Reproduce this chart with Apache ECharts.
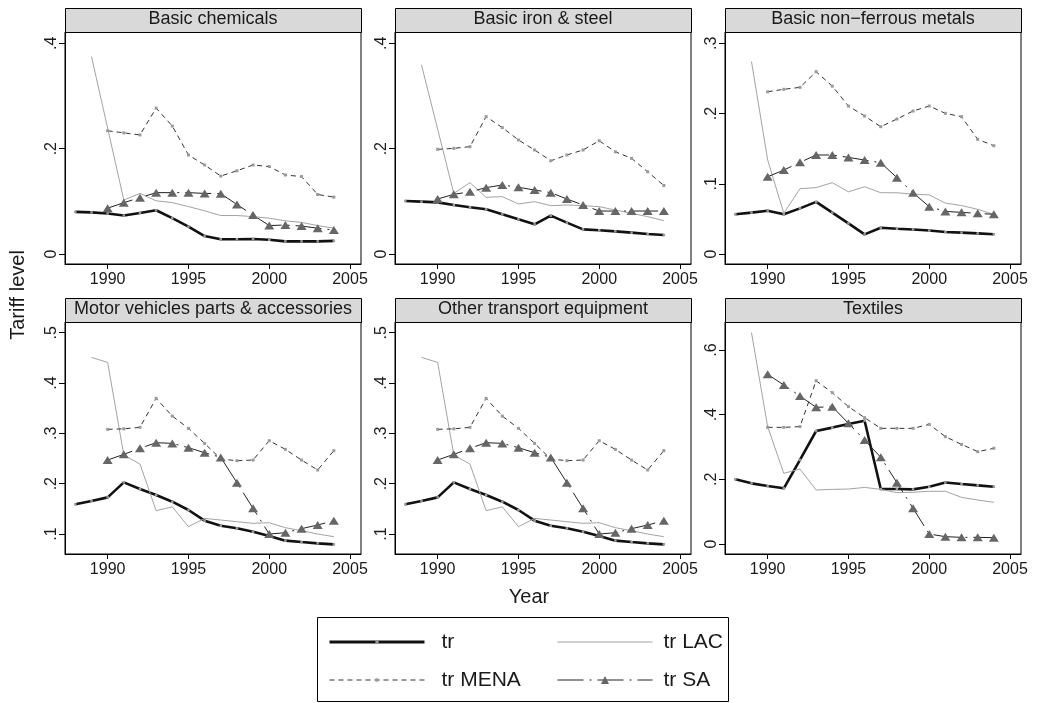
<!DOCTYPE html>
<html>
<head>
<meta charset="utf-8">
<script src="https://cdn.jsdelivr.net/npm/echarts@6/dist/echarts.min.js"></script>
<style>html,body{margin:0;padding:0;background:#fff}#chart{width:1039px;height:703px}</style>
</head>
<body>
<div id="chart"></div>
<script>
// ---------- data ----------
const years = [1988,1989,1990,1991,1992,1993,1994,1995,1996,1997,1998,1999,2000,2001,2002,2003,2004];
const panelTitles = ['Basic chemicals','Basic iron & steel','Basic non\u2212ferrous metals',
  'Motor vehicles parts & accessories','Other transport equipment','Textiles'];
const seriesNames = ['tr','tr LAC','tr MENA','tr SA'];
const xTicks = [1990,1995,2000,2005];

const chemTr   = [0.080,0.079,0.077,0.073,0.078,0.083,0.068,0.052,0.034,0.028,0.028,0.0285,0.027,0.024,0.024,0.024,0.025];
const chemLAC  = [null,0.375,null,0.1025,0.115,0.101,0.0975,0.090,0.082,0.073,0.073,0.071,0.068,0.063,0.060,0.054,0.049];
const chemMENA = [null,null,0.234,0.230,0.226,0.277,0.243,0.188,0.169,0.148,0.158,0.169,0.166,0.150,0.147,0.113,0.108];
const chemSA   = [null,null,0.087,0.0975,0.107,0.1165,0.1165,0.1165,0.115,0.1146,0.094,0.074,0.054,0.055,0.053,0.049,0.0456];
const chemTicks = [0,0.2,0.4];

const steelTr   = [0.1006,0.0994,0.098,0.093,0.0886,0.0848,0.0753,0.0658,0.0563,0.0728,0.0595,0.0468,0.045,0.043,0.0405,0.038,0.036];
const steelLAC  = [null,0.359,null,0.115,0.1354,0.1076,0.1089,0.095,0.0994,0.0918,0.093,0.0918,0.0899,0.0835,0.0772,0.0709,0.0633];
const steelMENA = [null,null,0.1987,0.2006,0.2038,0.2608,0.240,0.2165,0.1975,0.177,0.188,0.1975,0.215,0.194,0.1816,0.156,0.130];
const steelSA   = [null,null,0.1044,0.1133,0.118,0.126,0.131,0.1266,0.1215,0.1165,0.1044,0.093,0.0816,0.0816,0.0816,0.0816,0.0816];
const steelTicks = [0,0.2,0.4];

const nonfTr   = [0.0567,0.0589,0.0617,0.0567,0.065,0.0742,0.0589,0.0437,0.028,0.0375,0.036,0.035,0.0334,0.0313,0.0304,0.0294,0.0282];
const nonfLAC  = [null,0.274,0.134,0.058,0.093,0.0946,0.1016,0.0886,0.0958,0.0873,0.0872,0.0852,0.0842,0.0725,0.069,0.0636,0.0565];
const nonfMENA = [null,null,0.231,0.2345,0.2373,0.2596,0.239,0.2107,0.1965,0.1813,0.1922,0.2036,0.2107,0.2003,0.1955,0.1633,0.1542];
const nonfSA   = [null,null,0.110,0.1196,0.1305,0.141,0.141,0.1376,0.1338,0.130,0.1087,0.0873,0.0674,0.0607,0.0593,0.0579,0.0565];
const nonfTicks = [0,0.1,0.2,0.3];

const motorTr   = [0.159,0.1656,0.1728,0.2026,0.1894,0.1775,0.1642,0.1477,0.1265,0.1166,0.1113,0.1046,0.096,0.0868,0.084,0.0815,0.0795];
const motorLAC  = [null,0.451,0.441,0.257,0.239,0.1464,0.154,0.1146,0.131,0.1278,0.1245,0.1212,0.1225,0.1126,0.1066,0.100,0.0947];
const motorMENA = [null,null,0.308,0.309,0.312,0.3695,0.3344,0.310,0.2801,0.249,0.2457,0.247,0.2854,0.2682,0.247,0.2272,0.2656];
const motorSA   = [null,null,0.247,0.2583,0.2702,0.2815,0.2801,0.2715,0.2616,0.2523,0.202,0.151,0.100,0.1026,0.1106,0.1179,0.1265];
const motorTicks = [0.1,0.2,0.3,0.4,0.5];

const transTr   = [0.159,0.1656,0.1728,0.2026,0.1894,0.1775,0.1642,0.1477,0.1265,0.1166,0.1113,0.1046,0.096,0.0868,0.084,0.0815,0.0795];
const transLAC  = [null,0.451,0.441,0.257,0.239,0.1464,0.154,0.1146,0.131,0.1278,0.1245,0.1212,0.1225,0.1126,0.1066,0.100,0.0947];
const transMENA = [null,null,0.308,0.309,0.312,0.3695,0.3344,0.310,0.2801,0.249,0.2457,0.247,0.2854,0.2682,0.247,0.2272,0.2656];
const transSA   = [null,null,0.247,0.2583,0.2702,0.2815,0.2801,0.2715,0.2616,0.2523,0.202,0.151,0.100,0.1026,0.1106,0.1179,0.1265];
const transTicks = [0.1,0.2,0.3,0.4,0.5];

const textTr   = [0.200,0.1876,0.1794,0.1722,0.260,0.3495,0.360,0.371,0.3814,0.170,0.170,0.169,0.177,0.190,0.1856,0.1814,0.177];
const textLAC  = [null,0.6536,0.3629,0.2186,0.232,0.167,0.169,0.170,0.175,0.169,0.1588,0.160,0.163,0.163,0.1443,0.136,0.129];
const textMENA = [null,null,0.3608,0.3608,0.363,0.505,0.468,0.425,0.3907,0.3577,0.3577,0.3577,0.370,0.332,0.308,0.2856,0.296];
const textSA   = [null,null,0.5247,0.4918,0.4577,0.4227,0.4247,0.3732,0.3216,0.268,0.1897,0.1103,0.0309,0.0227,0.0206,0.0206,0.0196];
const textTicks = [0,0.2,0.4,0.6];

// axis ranges (scale extents of each panel)
const xRange = [1987.36, 2005.68];
const yRanges = [[-0.019,0.4215],[-0.019,0.4215],[-0.0142,0.3161],[0.0603,0.5213],[0.0603,0.5213],[-0.0309,0.6866]];

const panelData = [
  [chemTr,chemLAC,chemMENA,chemSA,chemTicks],
  [steelTr,steelLAC,steelMENA,steelSA,steelTicks],
  [nonfTr,nonfLAC,nonfMENA,nonfSA,nonfTicks],
  [motorTr,motorLAC,motorMENA,motorSA,motorTicks],
  [transTr,transLAC,transMENA,transSA,transTicks],
  [textTr,textLAC,textMENA,textSA,textTicks]
];

// ---------- layout & style ----------
const FONT = 'Liberation Sans, Arial, Helvetica, sans-serif';
const colLeft = [65, 395, 725];
const rowTop = [32, 322];
const plotW = 296, plotH = 232, stripH = 24;

function pairs(vals){
  const out = [];
  vals.forEach((v,k)=>{ if (v !== null) out.push([years[k], v]); });
  return out;
}
function yFmt(v){
  const r = Math.round(v*10)/10;
  if (r === 0) return '0';
  return String(r).replace(/^0\./,'.');
}
function xFmt(v){ return String(Math.round(v)); }

const grids=[], xAxes=[], yAxes=[], series=[], graphics=[];
panelData.forEach((p,i)=>{
  const r = Math.floor(i/3), c = i%3;
  const left = colLeft[c], top = rowTop[r];
  grids.push({left:left, top:top, width:plotW, height:plotH, show:true,
    borderColor:'#000', borderWidth:1, backgroundColor:'#fff', containLabel:false});
  xAxes.push({type:'value', gridIndex:i, min:xRange[0], max:xRange[1],
    axisLine:{show:true, onZero:false, lineStyle:{color:'#000', width:1}},
    axisTick:{show:true, length:5, customValues:xTicks, lineStyle:{color:'#000', width:1}},
    axisLabel:{show:true, customValues:xTicks, fontSize:16, color:'#1a1a1a', margin:8, fontFamily:FONT, formatter:xFmt},
    splitLine:{show:false}});
  yAxes.push({type:'value', gridIndex:i, min:yRanges[i][0], max:yRanges[i][1],
    axisLine:{show:true, onZero:false, lineStyle:{color:'#000', width:1}},
    axisTick:{show:true, length:6, customValues:p[4], lineStyle:{color:'#000', width:1}},
    axisLabel:{show:true, customValues:p[4], rotate:90, fontSize:16, color:'#1a1a1a', margin:5,
      fontFamily:FONT, formatter:yFmt},
    splitLine:{show:false}});
  const common = {type:'line', xAxisIndex:i, yAxisIndex:i, silent:true, animation:false,
    showAllSymbol:true, emphasis:{disabled:true}, connectNulls:true};
  series.push(Object.assign({}, common, {name:seriesNames[0], data:pairs(p[0]), z:3,
    symbol:'rect', symbolSize:2.5, itemStyle:{color:'#9a9a9a'}, lineStyle:{color:'#111', width:2.6}}));
  series.push(Object.assign({}, common, {name:seriesNames[1], data:pairs(p[1]), z:4,
    symbol:'none', itemStyle:{color:'#a3a3a3'}, lineStyle:{color:'#a3a3a3', width:1}}));
  series.push(Object.assign({}, common, {name:seriesNames[2], data:pairs(p[2]), z:5,
    symbol:'rect', symbolSize:3, itemStyle:{color:'#9a9a9a'}, lineStyle:{color:'#333', width:1, type:[5,4]}}));
  series.push(Object.assign({}, common, {name:seriesNames[3], data:pairs(p[3]), z:6,
    symbol:'triangle', symbolSize:[10,8], itemStyle:{color:'#666'}, lineStyle:{color:'#222', width:1, type:[26,6,2,6]}}));
  // strip header
  graphics.push({type:'rect', silent:true, z:10,
    shape:{x:left+0.5, y:top-stripH+0.5, width:plotW, height:stripH},
    style:{fill:'#d9d9d9', stroke:'#000', lineWidth:1}});
  graphics.push({type:'text', silent:true, z:11, x:left+plotW/2, y:top-stripH/2-1,
    style:{text:panelTitles[i], fontSize:18, fontFamily:FONT, fill:'#1a1a1a', textAlign:'center', textVerticalAlign:'middle'}});
});

graphics.push({type:'text', silent:true, x:18, y:295, rotation:Math.PI/2,
  style:{text:'Tariff level', fontSize:20, fontFamily:FONT, fill:'#1a1a1a', textAlign:'center', textVerticalAlign:'middle'}});
graphics.push({type:'text', silent:true, x:529, y:597,
  style:{text:'Year', fontSize:20, fontFamily:FONT, fill:'#1a1a1a', textAlign:'center', textVerticalAlign:'middle'}});
graphics.push({type:'rect', silent:true, shape:{x:317.5, y:617.5, width:411, height:84},
  style:{fill:'none', stroke:'#000', lineWidth:1}});

const legendText = {fontSize:21, lineHeight:22, color:'#1a1a1a', fontFamily:FONT};
const option = {
  backgroundColor:'#fff',
  animation:false,
  grid:grids, xAxis:xAxes, yAxis:yAxes, series:series,
  graphic:{elements:graphics},
  legend:[
    {orient:'vertical', left:328, top:631, padding:0, itemWidth:95, itemHeight:4, itemGap:16,
     selectedMode:false, textStyle:Object.assign({padding:[0,0,0,12]}, legendText),
     data:[{name:'tr', lineStyle:{width:3}}, {name:'tr MENA', lineStyle:{width:1}}]},
    {orient:'vertical', left:557, top:631, padding:0, itemWidth:95, itemHeight:10, itemGap:16,
     selectedMode:false, textStyle:Object.assign({padding:[0,0,0,6]}, legendText),
     data:[{name:'tr LAC', lineStyle:{width:1}, itemStyle:{opacity:0}}, {name:'tr SA', lineStyle:{width:1}}]}
  ]
};
const chart = echarts.init(document.getElementById('chart'), null, {renderer:'canvas'});
chart.setOption(option);
</script>
</body>
</html>
